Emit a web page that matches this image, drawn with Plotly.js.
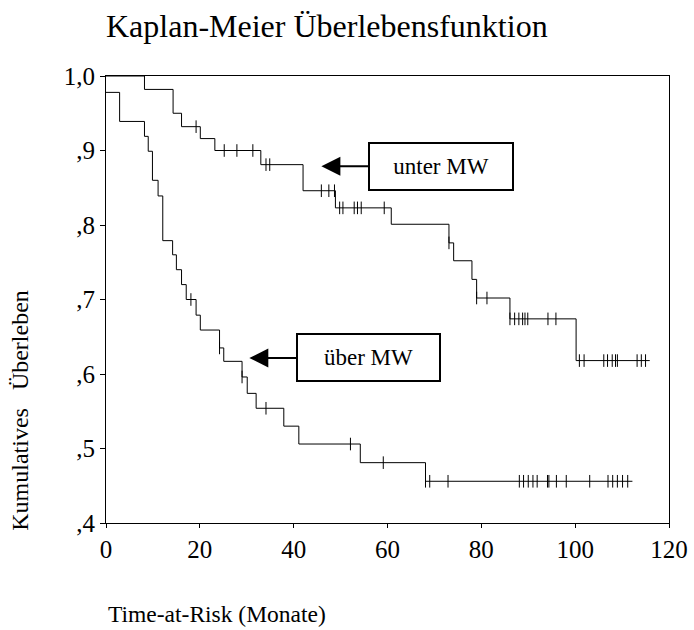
<!DOCTYPE html>
<html>
<head>
<meta charset="utf-8">
<script src="https://cdn.plot.ly/plotly-3.0.1.min.js"></script>
<style>html,body{margin:0;padding:0;background:#fff;}#chart{width:694px;height:630px;}</style>
</head>
<body>
<div id="chart"></div>
<script>
// "unter MW" group: step times and survival levels
var unterTimes = [0, 8.2, 14.3, 16.1, 20.1, 23.2, 33.0, 42.0, 48.9, 60.8, 73.1, 74.1, 78.0, 79.0, 86.1, 100.2, 115.9];
var unterSurv  = [1.0, 0.982, 0.950, 0.932, 0.916, 0.900, 0.881, 0.846, 0.823, 0.801, 0.776, 0.752, 0.727, 0.702, 0.674, 0.618, 0.618];
var unterCensored = [19.2, 25.2, 27.9, 31.3, 34.1, 34.9, 45.9, 47.5, 48.7, 49.8, 50.5, 52.9, 53.6, 54.4, 59.3,
                     73.1, 79.0, 81.2, 86.1, 87.1, 88.0, 88.8, 89.3, 89.9, 94.2, 95.9,
                     100.9, 101.9, 106.1, 106.9, 107.9, 108.6, 109.0, 113.2, 114.1, 115.0];

// "über MW" group
var ueberTimes = [0, 2.9, 8.2, 9.0, 9.9, 11.1, 12.1, 14.2, 15.0, 16.1, 17.1, 19.2, 20.1, 24.2, 25.1, 29.0, 30.1, 32.0, 37.9, 41.1, 54.2, 68.1, 112.2];
var ueberSurv  = [0.978, 0.939, 0.919, 0.899, 0.860, 0.839, 0.779, 0.760, 0.740, 0.720, 0.700, 0.679, 0.659, 0.635, 0.617, 0.596, 0.574, 0.554, 0.530, 0.506, 0.481, 0.456, 0.456];
var ueberCensored = [18.1, 24.2, 29.0, 34.1, 52.1, 59.1, 68.1, 69.0, 72.9, 88.1, 89.0, 90.0, 91.0, 91.9, 94.1, 94.4,
                     96.0, 98.1, 103.1, 107.0, 108.0, 109.0, 110.1, 111.2];

var xTickVals = [0, 20, 40, 60, 80, 100, 120];
var yTickVals = [0.4, 0.5, 0.6, 0.7, 0.8, 0.9, 1.0];
var yTickText = [',4', ',5', ',6', ',7', ',8', ',9', '1,0'];

function levelAt(times, surv, t) {
  var v = surv[0];
  for (var i = 0; i < times.length; i++) { if (times[i] <= t) v = surv[i]; }
  return v;
}

var FONT = 'Liberation Serif, Times New Roman, serif';
var lineStyle = {color: '#000', width: 1, shape: 'hv'};
var censorMarker = {symbol: 'line-ns', size: 9, line: {color: '#000', width: 1}};

var traces = [
  {x: unterTimes, y: unterSurv, mode: 'lines', line: lineStyle, name: 'unter MW', hoverinfo: 'x+y'},
  {x: ueberTimes, y: ueberSurv, mode: 'lines', line: lineStyle, name: 'über MW', hoverinfo: 'x+y'},
  {x: unterCensored, y: unterCensored.map(function(t){return levelAt(unterTimes, unterSurv, t);}),
   mode: 'markers', marker: censorMarker, name: 'unter MW zensiert', cliponaxis: false},
  {x: ueberCensored, y: ueberCensored.map(function(t){return levelAt(ueberTimes, ueberSurv, t);}),
   mode: 'markers', marker: censorMarker, name: 'über MW zensiert', cliponaxis: false}
];

var layout = {
  width: 694, height: 630,
  margin: {l: 106, r: 25, t: 76, b: 107, pad: 0},
  paper_bgcolor: '#fff', plot_bgcolor: '#fff',
  showlegend: false,
  font: {family: FONT, color: '#000', size: 24},
  title: {text: 'Kaplan-Meier Überlebensfunktion', font: {family: FONT, size: 32, color: '#000'},
          xref: 'container', x: 106/694, xanchor: 'left', yref: 'container', y: 1 - 26/630, yanchor: 'middle'},
  xaxis: {range: [0, 120], tickvals: xTickVals, ticktext: xTickVals.map(String),
          showgrid: false, zeroline: false, showline: true, mirror: true, linecolor: '#000', linewidth: 1,
          ticks: 'outside', ticklen: 4, tickwidth: 1, tickcolor: '#000',
          tickfont: {family: FONT, size: 25, color: '#000'}},
  yaxis: {range: [0.4, 1.0], tickvals: yTickVals, ticktext: yTickText,
          showgrid: false, zeroline: false, showline: true, mirror: true, linecolor: '#000', linewidth: 1,
          ticks: 'outside', ticklen: 5, tickwidth: 1, tickcolor: '#000',
          tickfont: {family: FONT, size: 25, color: '#000'}},
  annotations: [
    {text: 'unter MW', x: 45.9, y: 0.879, xref: 'x', yref: 'y', ax: 71.5, ay: 0.879, axref: 'x', ayref: 'y',
     showarrow: true, arrowhead: 2, arrowsize: 1.9, arrowwidth: 2, arrowcolor: '#000',
     bordercolor: '#000', borderwidth: 2, borderpad: 0, bgcolor: '#fff', width: 142, height: 45,
     font: {family: FONT, size: 23, color: '#000'}},
    {text: 'über MW', x: 30.55, y: 0.6215, xref: 'x', yref: 'y', ax: 56.0, ay: 0.6215, axref: 'x', ayref: 'y',
     showarrow: true, arrowhead: 2, arrowsize: 1.9, arrowwidth: 2, arrowcolor: '#000',
     bordercolor: '#000', borderwidth: 2, borderpad: 0, bgcolor: '#fff', width: 141, height: 45,
     font: {family: FONT, size: 23, color: '#000'}},
    {text: 'Kumulatives   Überleben', xref: 'paper', yref: 'paper', x: -0.153, y: 0.253,
     xanchor: 'center', yanchor: 'middle', textangle: -90, showarrow: false,
     font: {family: FONT, size: 24, color: '#000'}},
    {text: 'Time-at-Risk (Monate)', xref: 'paper', yref: 'paper', x: 0, y: -0.203,
     xanchor: 'left', yanchor: 'middle', showarrow: false,
     font: {family: FONT, size: 23.5, color: '#000'}}
  ]
};

Plotly.newPlot('chart', traces, layout, {displayModeBar: false, staticPlot: true});
</script>
</body>
</html>
